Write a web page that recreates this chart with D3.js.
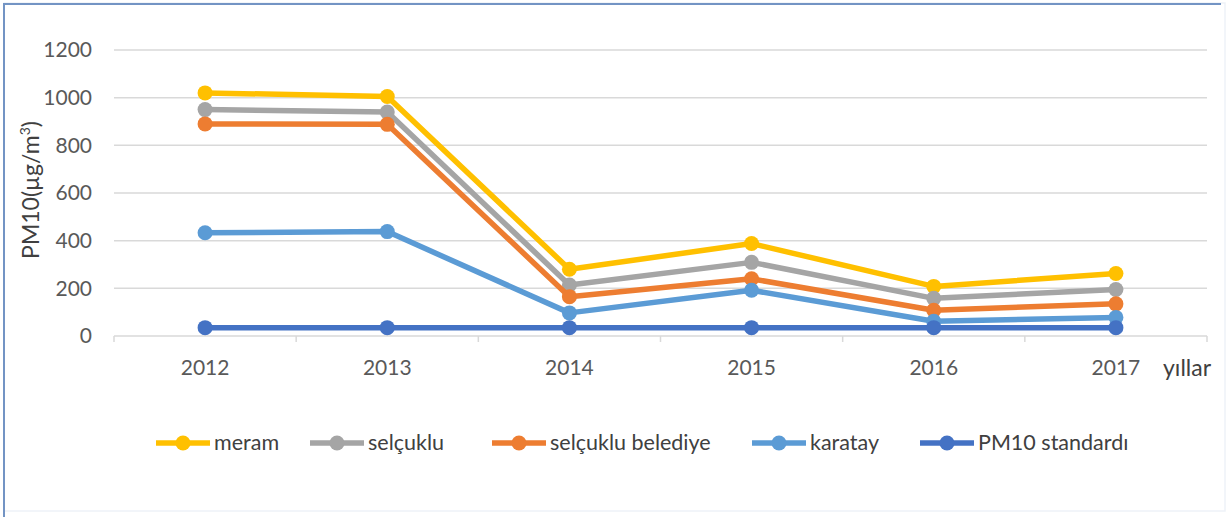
<!DOCTYPE html>
<html>
<head>
<meta charset="utf-8">
<script src="https://cdn.jsdelivr.net/npm/d3@7/dist/d3.min.js"></script>
<style>
  html, body { margin: 0; padding: 0; background: #fff; }
  svg { display: block; font-family: Lato, "Open Sans", sans-serif; }
</style>
</head>
<body>
<svg id="chart" width="1229" height="517"></svg>
<script>
// Annual mean PM10 by station
const years = ["2012", "2013", "2014", "2015", "2016", "2017"];
const meram = [1020, 1005, 280, 388, 208, 262];
const selcuklu = [950, 940, 214, 309, 158, 195];
const selcukluBelediye = [890, 888, 165, 240, 108, 135];
const karatay = [433, 438, 97, 192, 62, 78];
const pm10Standard = [35, 35, 35, 35, 35, 35];
const yTicks = [0, 200, 400, 600, 800, 1000, 1200];

const seriesNames = ["meram", "selçuklu", "selçuklu belediye", "karatay", "PM10 standardı"];
const seriesColors = ["#FFC000", "#A5A5A5", "#ED7D31", "#5B9BD5", "#4472C4"];
const seriesValues = [meram, selcuklu, selcukluBelediye, karatay, pm10Standard];

const svg = d3.select("#chart");
const W = 1229, H = 517;

// outer frame
svg.append("rect").attr("x", 4).attr("y", 3).attr("width", W - 8).attr("height", H - 9)
  .attr("fill", "#fff").attr("stroke", "#eef2f8").attr("stroke-width", 1.5);
svg.append("line").attr("x1", 4).attr("x2", 4).attr("y1", 3).attr("y2", H)
  .attr("stroke", "#7394c4").attr("stroke-width", 2);
svg.append("line").attr("x1", 3).attr("x2", W - 8).attr("y1", 4).attr("y2", 4)
  .attr("stroke", "#7394c4").attr("stroke-width", 2);

const plot = { left: 114, right: 1207, top: 50, bottom: 336 };

const x = d3.scaleBand().domain(years).range([plot.left, plot.right]).padding(0);
const y = d3.scaleLinear().domain([0, 1200]).range([plot.bottom, plot.top]);

// horizontal gridlines
svg.append("g")
  .selectAll("line").data(yTicks.filter(d => d > 0)).join("line")
  .attr("x1", plot.left).attr("x2", plot.right)
  .attr("y1", d => y(d)).attr("y2", d => y(d))
  .attr("stroke", "#d9d9d9").attr("stroke-width", 1.5);

// y axis labels
const yAxis = svg.append("g")
  .attr("transform", `translate(${plot.left},0)`)
  .call(d3.axisLeft(y).tickValues(yTicks).tickFormat(d3.format("d")).tickSize(0).tickPadding(22));
yAxis.select(".domain").remove();
yAxis.selectAll("text")
  .attr("fill", "#595959").style("font-size", "21px").style("font-family", "Lato, sans-serif");

// x axis with category boundary ticks
const xAxis = svg.append("g").attr("transform", `translate(0,${plot.bottom})`);
xAxis.append("line").attr("x1", plot.left).attr("x2", plot.right)
  .attr("y1", 0).attr("y2", 0).attr("stroke", "#d9d9d9").attr("stroke-width", 1.5);
const bounds = years.map(d => x(d)).concat([x(years[years.length - 1]) + x.bandwidth()]);
xAxis.selectAll("line.tick").data(bounds).join("line").attr("class", "tick")
  .attr("x1", d => d).attr("x2", d => d).attr("y1", 0).attr("y2", 6)
  .attr("stroke", "#d9d9d9").attr("stroke-width", 1.5);
xAxis.selectAll("text").data(years).join("text")
  .attr("x", d => x(d) + x.bandwidth() / 2).attr("y", 39)
  .attr("text-anchor", "middle").attr("fill", "#595959")
  .style("font-size", "21px").text(d => d);

// x axis title
svg.append("text").attr("x", 1163).attr("y", 376)
  .attr("fill", "#404040").style("font-size", "23px").text("yıllar");

// y axis title
const yTitle = svg.append("text")
  .attr("transform", "translate(39,190) rotate(-90)")
  .attr("text-anchor", "middle").attr("fill", "#404040").style("font-size", "23px");
yTitle.append("tspan").text("PM10(µg/m");
yTitle.append("tspan").attr("dy", -9).style("font-size", "14px").text("3");
yTitle.append("tspan").attr("dy", 9).text(")");

// series lines and markers
const line = d3.line().x((d, i) => x(years[i]) + x.bandwidth() / 2).y(d => y(d));
seriesValues.forEach((vals, k) => {
  const g = svg.append("g");
  g.append("path").datum(vals).attr("d", line)
    .attr("fill", "none").attr("stroke", seriesColors[k]).attr("stroke-width", 5.5)
    .attr("stroke-linejoin", "round");
  g.selectAll("circle").data(vals).join("circle")
    .attr("cx", (d, i) => x(years[i]) + x.bandwidth() / 2).attr("cy", d => y(d))
    .attr("r", 7.5).attr("fill", seriesColors[k]);
});

// legend
const legend = svg.append("g").attr("transform", "translate(0,443)");
const legendMarkerX = [183, 337, 519, 779, 947];
seriesNames.forEach((name, k) => {
  const g = legend.append("g").attr("transform", `translate(${legendMarkerX[k]},0)`);
  g.append("line").attr("x1", -27).attr("x2", 27).attr("y1", 0).attr("y2", 0)
    .attr("stroke", seriesColors[k]).attr("stroke-width", 5.5);
  g.append("circle").attr("cx", 0).attr("cy", 0).attr("r", 7.5).attr("fill", seriesColors[k]);
  g.append("text").attr("x", 31).attr("y", 7).attr("fill", "#404040")
    .style("font-size", "21.5px").text(name);
});
</script>
</body>
</html>
